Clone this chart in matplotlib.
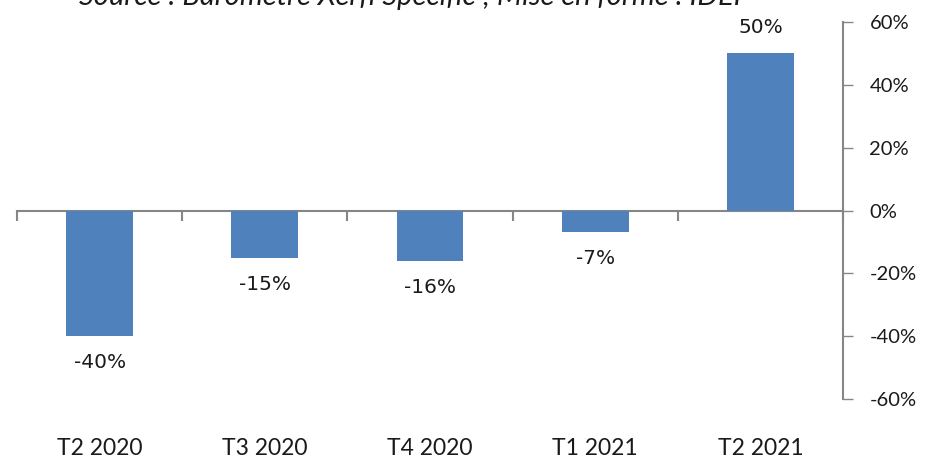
import matplotlib
matplotlib.use("Agg")
import matplotlib.pyplot as plt

# data
categories = ["T2 2020", "T3 2020", "T4 2020", "T1 2021", "T2 2021"]
values = [-0.40, -0.15, -0.16, -0.07, 0.50]
value_labels = ["-40%", "-15%", "-16%", "-7%", "50%"]
ytick_vals = [0.6, 0.4, 0.2, 0.0, -0.2, -0.4, -0.6]
ytick_labels = ["60%", "40%", "20%", "0%", "-20%", "-40%", "-60%"]
title = "Source : Baromètre Xerfi Specific ; Mise en forme : IDEF"

BAR = "#4F81BD"
AXC = "#868686"

fig = plt.figure(figsize=(9.3, 4.63), dpi=100)
ax = fig.add_axes([17 / 930, 1 - 399 / 463, (843 - 17) / 930, (399 - 22) / 463])

x = list(range(len(categories)))
ax.bar(x, values, width=0.405, color=BAR, zorder=2)
ax.set_xlim(-0.5, len(categories) - 0.5)
ax.set_ylim(-0.6, 0.6)

# spines
for s in ["left", "top"]:
    ax.spines[s].set_visible(False)
ax.spines["right"].set_color(AXC)
ax.spines["right"].set_linewidth(1.5)
ax.spines["bottom"].set_position(("data", 0))
ax.spines["bottom"].set_color(AXC)
ax.spines["bottom"].set_linewidth(1.5)
ax.spines["bottom"].set_zorder(1)

# y axis on the right
ax.yaxis.tick_right()
ax.set_yticks(ytick_vals)
ax.set_yticklabels(ytick_labels, fontfamily="Lato", fontsize=14.5, color="#1a1a1a")
ax.tick_params(axis="y", direction="out", length=7, width=1, color=AXC, pad=12)
for lab in ax.get_yticklabels():
    lab.set_horizontalalignment("left")

# x axis: boundary ticks on zero line, labels at bottom
ax.set_xticks([])
ax.set_xticks([i - 0.5 for i in range(len(categories) + 1)], minor=True)
ax.tick_params(axis="x", which="minor", direction="out", length=7, width=1.5, color=AXC)
for i, c in enumerate(categories):
    ax.annotate(c, (i, -0.6), xytext=(0, -28), textcoords="offset points",
                ha="center", va="top", fontfamily="Lato", fontsize=16.5, color="#1a1a1a")

# value labels
for i, (v, lab) in enumerate(zip(values, value_labels)):
    off = 19 if v > 0 else -19
    ax.annotate(lab, (i, v), xytext=(0, off), textcoords="offset points",
                ha="center", va="center", fontfamily="DejaVu Sans", fontsize=14.5, color="#1a1a1a")

# source line, cut at the top edge as in the original
fig.text(0.445, 1 - 5 / 463, title, ha="center", va="baseline",
         fontfamily="Lato", fontstyle="italic", fontsize=21, color="#1a1a1a")

fig.savefig("out.png", dpi=100)
